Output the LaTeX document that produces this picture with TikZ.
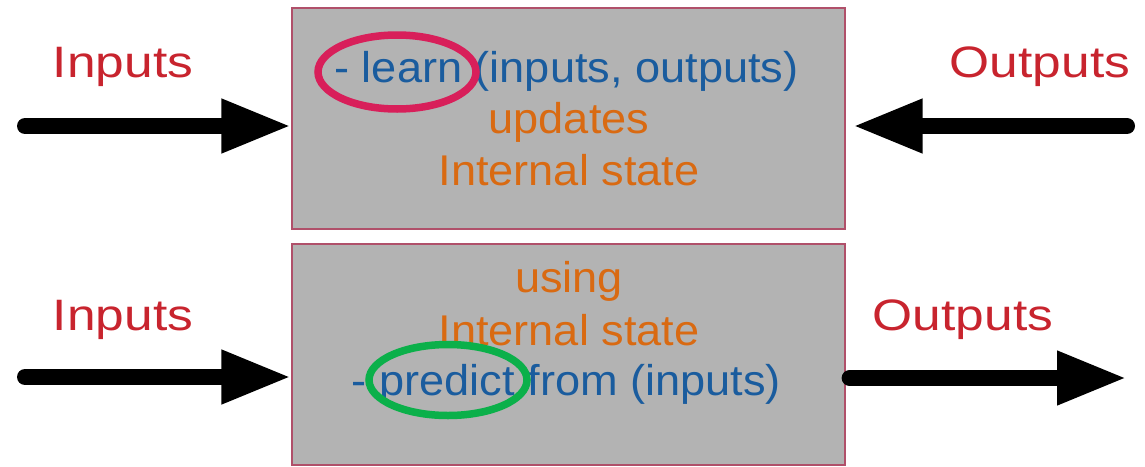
\documentclass[tikz,border=0pt]{standalone}
\usepackage{fontspec}
\setmainfont{Liberation Sans}
\usetikzlibrary{arrows.meta,shapes.geometric}
\definecolor{labelred}{HTML}{C8242E}
\definecolor{textblue}{HTML}{1A5C9E}
\definecolor{textorange}{HTML}{D96A12}
\definecolor{boxgray}{HTML}{B3B3B3}
\definecolor{boxedge}{HTML}{B0506A}
\definecolor{ringred}{HTML}{D81F5A}
\definecolor{ringgreen}{HTML}{0BB04A}
\tikzset{
  statebox/.style={draw=boxedge, fill=boxgray, line width=1.2pt,
    minimum width=553pt, minimum height=221pt, inner sep=0pt},
  sidelabel/.style={text=labelred, anchor=base, inner sep=0pt,
    font=\fontsize{44}{52}\selectfont, xscale=1.17, transform shape},
  boxline/.style={anchor=base, inner sep=0pt,
    font=\fontsize{43}{52}\selectfont, xscale=1.05, transform shape},
  bluetext/.style={boxline, text=textblue},
  orangetext/.style={boxline, text=textorange},
  flow/.style={line width=16pt, line cap=round,
    -{Triangle[length=70pt, width=50pt]}},
  ring/.style={draw, ellipse, line width=7.5pt, inner sep=0pt}
}
\begin{document}
\begin{tikzpicture}[x=1pt, y=-1pt]
  \useasboundingbox (0,0) rectangle (1145,466);

  % the two state boxes
  \node[statebox] (learnbox) at (568.5,118.5) {};
  \node[statebox] (predictbox) at (568.5,354.5) {};

  % text of the learning box
  \node[bluetext] (learnline) at (566.5,82) {- learn (inputs, outputs)};
  \node[orangetext] (updline) at (569,133) {updates};
  \node[orangetext] (stateA) at (569,185) {Internal state};

  % text of the prediction box
  \node[orangetext] (usingline) at (569,292) {using};
  \node[orangetext] (stateB) at (569,345) {Internal state};
  \node[bluetext] (predline) at (566.5,395) {- predict from (inputs)};

  % highlight rings
  \node[ring, draw=ringred, minimum width=158pt, minimum height=74pt] (learnring) at (397,72) {};
  \node[ring, draw=ringgreen, minimum width=158pt, minimum height=71pt] (predring) at (448,380) {};

  % side labels
  \node[sidelabel] (inA) at (123,77) {Inputs};
  \node[sidelabel] (outA) at (1040,77) {Outputs};
  \node[sidelabel] (inB) at (123,330) {Inputs};
  \node[sidelabel] (outB) at (963,330) {Outputs};

  % arrow end points
  \coordinate (inAstart) at (25,126);
  \coordinate (outAstart) at (1127,126);
  \coordinate (inBstart) at (25,377);
  \coordinate (outBend) at (1127,378);

  % arrows
  \draw[flow] (inAstart) -- (inAstart -| learnbox.west);
  \draw[flow] (outAstart) -- ([xshift=7pt]outAstart -| learnbox.east);
  \draw[flow] (inBstart) -- (inBstart -| predictbox.west);
  \draw[flow] ([xshift=4pt]outBend -| predictbox.east) -- (outBend);
\end{tikzpicture}
\end{document}
